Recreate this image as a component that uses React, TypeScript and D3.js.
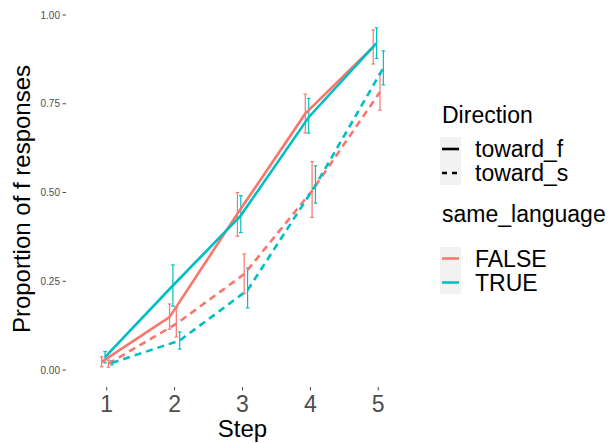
import * as d3 from "d3";

const steps = [1, 2, 3, 4, 5];
const yTicks = [0, 0.25, 0.5, 0.75, 1];

// proportion of f responses, with lower / upper error bar ends
const falseF = [0.023, 0.149, 0.44, 0.722, 0.91];
const falseFLo = [0.009, 0.115, 0.377, 0.668, 0.862];
const falseFHi = [0.037, 0.186, 0.5, 0.777, 0.958];

const trueF = [0.036, 0.238, 0.435, 0.712, 0.921];
const trueFLo = [0.02, 0.18, 0.387, 0.667, 0.878];
const trueFHi = [0.052, 0.296, 0.491, 0.765, 0.964];

const falseS = [0.018, 0.13, 0.27, 0.505, 0.783];
const falseSLo = [0.008, 0.093, 0.216, 0.43, 0.732];
const falseSHi = [0.028, 0.175, 0.327, 0.587, 0.834];

const trueS = [0.02, 0.083, 0.225, 0.52, 0.851];
const trueSLo = [0.014, 0.059, 0.175, 0.47, 0.803];
const trueSHi = [0.026, 0.107, 0.287, 0.575, 0.899];

const RED = "#F8766D";
const TEAL = "#00BFC4";

// dodge order: toward_f FALSE, toward_f TRUE, toward_s FALSE, toward_s TRUE
const groups = [
  { name: "FALSE toward_f", v: falseF, lo: falseFLo, hi: falseFHi, color: RED, dash: null, dodge: -0.075 },
  { name: "FALSE toward_s", v: falseS, lo: falseSLo, hi: falseSHi, color: RED, dash: "7,5", dodge: 0.025 },
  { name: "TRUE toward_f", v: trueF, lo: trueFLo, hi: trueFHi, color: TEAL, dash: null, dodge: -0.025 },
  { name: "TRUE toward_s", v: trueS, lo: trueSLo, hi: trueSHi, color: TEAL, dash: "7,5", dodge: 0.075 },
];

export default function App() {
  const width = 616;
  const height = 444;
  const font = "Liberation Sans, Arial, sans-serif";

  // discrete-like x axis: 0.6 expansion on each side
  const x = d3.scaleLinear().domain([0.4, 5.6]).range([66, 419]);
  const y = d3.scaleLinear().domain([0, 1]).range([370, 15]);
  const panelBottom = 387;

  return (
    <svg
      width={width}
      height={height}
      style={{ position: "absolute", left: 0, top: 0, background: "#fff" }}
      fontFamily={font}
    >
      {/* y axis */}
      {yTicks.map((t) => (
        <g key={t}>
          <line x1={62.5} x2={66} y1={y(t)} y2={y(t)} stroke="#4D4D4D" strokeWidth={1} />
          <text x={60} y={y(t)} dy="0.35em" textAnchor="end" fontSize={10} fill="#4D4D4D">
            {d3.format(".2f")(t)}
          </text>
        </g>
      ))}
      {/* x axis */}
      {steps.map((s) => (
        <g key={s}>
          <line x1={x(s)} x2={x(s)} y1={panelBottom} y2={panelBottom + 3.5} stroke="#4D4D4D" strokeWidth={1} />
          <text x={x(s)} y={412} textAnchor="middle" fontSize={23} fill="#4D4D4D">
            {s}
          </text>
        </g>
      ))}
      <text x={242.5} y={437} textAnchor="middle" fontSize={24} fill="#000">
        Step
      </text>
      <text
        transform={`translate(30,${199}) rotate(-90)`}
        textAnchor="middle"
        fontSize={24}
        fill="#000"
      >
        Proportion of f responses
      </text>

      {/* error bars */}
      {groups.map((g) =>
        steps.map((s, i) => {
          const cx = x(s + g.dodge);
          return (
            <g key={g.name + s} stroke={g.color} strokeWidth={1.2}>
              <line x1={cx} x2={cx} y1={y(g.lo[i])} y2={y(g.hi[i])} />
              <line x1={cx - 1.8} x2={cx + 1.8} y1={y(g.lo[i])} y2={y(g.lo[i])} />
              <line x1={cx - 1.8} x2={cx + 1.8} y1={y(g.hi[i])} y2={y(g.hi[i])} />
            </g>
          );
        })
      )}

      {/* lines */}
      {groups.map((g) => {
        const path = d3
          .line<number>()
          .x((d, i) => x(steps[i] + g.dodge))
          .y((d) => y(d))(g.v);
        return (
          <path
            key={g.name}
            d={path ?? undefined}
            fill="none"
            stroke={g.color}
            strokeWidth={2.6}
            strokeDasharray={g.dash ?? undefined}
          />
        );
      })}

      {/* legend: Direction */}
      <text x={442} y={123} fontSize={23} fill="#000">Direction</text>
      <rect x={440} y={137} width={21} height={48} fill="#F2F2F2" />
      <line x1={442} x2={459} y1={149} y2={149} stroke="#000" strokeWidth={2.6} />
      <line x1={442} x2={459} y1={173} y2={173} stroke="#000" strokeWidth={2.6} strokeDasharray="5,5" />
      <text x={475} y={149} dy="0.35em" fontSize={23} fill="#000">toward_f</text>
      <text x={475} y={173} dy="0.35em" fontSize={23} fill="#000">toward_s</text>

      {/* legend: same_language */}
      <text x={442} y={222} fontSize={23} fill="#000">same_language</text>
      <rect x={440} y={247} width={21} height={47} fill="#F2F2F2" />
      <line x1={442} x2={459} y1={258.5} y2={258.5} stroke={RED} strokeWidth={2.6} />
      <line x1={442} x2={459} y1={282.5} y2={282.5} stroke={TEAL} strokeWidth={2.6} />
      <text x={475} y={259} dy="0.35em" fontSize={23} fill="#000">FALSE</text>
      <text x={475} y={283} dy="0.35em" fontSize={23} fill="#000">TRUE</text>
    </svg>
  );
}
